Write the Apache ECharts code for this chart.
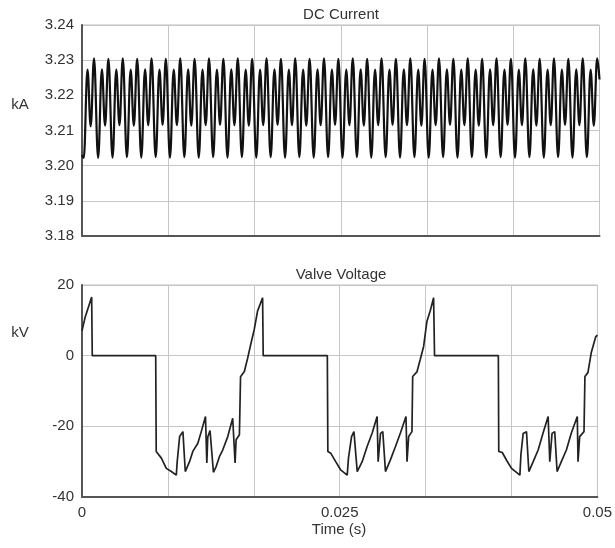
<!DOCTYPE html>
<html>
<head>
<meta charset="utf-8">
<script src="https://cdn.jsdelivr.net/npm/echarts@6/dist/echarts.min.js"></script>
<style>
html,body{margin:0;padding:0;background:#fff;}
#c{width:615px;height:548px;}
</style>
</head>
<body>
<div id="c"></div>
<script>
// ---- DC current (kA) : time of each turning point (s) and value ----
var dcTime = [
  0, 0.00017, 0.00053, 0.00084,
  0.00116, 0.00156, 0.00192, 0.00223,
  0.00255, 0.00295, 0.00331, 0.00362,
  0.00394, 0.00434, 0.00470, 0.00501,
  0.00533, 0.00573, 0.00609, 0.00640,
  0.00672, 0.00712, 0.00748, 0.00779,
  0.00810, 0.00850, 0.00886, 0.00917,
  0.00949, 0.00989, 0.01025, 0.01056,
  0.01088, 0.01128, 0.01164, 0.01195,
  0.01227, 0.01267, 0.01303, 0.01334,
  0.01366, 0.01406, 0.01442, 0.01473,
  0.01505, 0.01545, 0.01581, 0.01612,
  0.01644, 0.01684, 0.01720, 0.01751,
  0.01783, 0.01823, 0.01859, 0.01890,
  0.01922, 0.01962, 0.01998, 0.02029,
  0.02060, 0.02100, 0.02136, 0.02167,
  0.02199, 0.02239, 0.02275, 0.02306,
  0.02338, 0.02378, 0.02414, 0.02445,
  0.02477, 0.02517, 0.02553, 0.02584,
  0.02616, 0.02656, 0.02692, 0.02723,
  0.02755, 0.02795, 0.02831, 0.02862,
  0.02894, 0.02934, 0.02970, 0.03001,
  0.03033, 0.03073, 0.03109, 0.03140,
  0.03172, 0.03212, 0.03248, 0.03279,
  0.03310, 0.03350, 0.03386, 0.03417,
  0.03449, 0.03489, 0.03525, 0.03556,
  0.03588, 0.03628, 0.03664, 0.03695,
  0.03727, 0.03767, 0.03803, 0.03834,
  0.03866, 0.03906, 0.03942, 0.03973,
  0.04005, 0.04045, 0.04081, 0.04112,
  0.04144, 0.04184, 0.04220, 0.04251,
  0.04283, 0.04323, 0.04359, 0.04390,
  0.04422, 0.04462, 0.04498, 0.04529,
  0.04560, 0.04600, 0.04636, 0.04667,
  0.04699, 0.04739, 0.04775, 0.04806,
  0.04838, 0.04878, 0.04914, 0.04945,
  0.04977, 0.05
];
var dcCurrent = [
  3.2030, 3.2022, 3.2273, 3.2112,
  3.2305, 3.2022, 3.2274, 3.2114,
  3.2304, 3.2023, 3.2273, 3.2115,
  3.2305, 3.2024, 3.2273, 3.2114,
  3.2304, 3.2023, 3.2274, 3.2115,
  3.2305, 3.2024, 3.2273, 3.2116,
  3.2304, 3.2023, 3.2273, 3.2115,
  3.2305, 3.2024, 3.2274, 3.2114,
  3.2304, 3.2023, 3.2273, 3.2115,
  3.2305, 3.2024, 3.2273, 3.2116,
  3.2304, 3.2023, 3.2274, 3.2115,
  3.2305, 3.2024, 3.2273, 3.2114,
  3.2304, 3.2023, 3.2273, 3.2115,
  3.2305, 3.2024, 3.2274, 3.2116,
  3.2304, 3.2023, 3.2273, 3.2115,
  3.2305, 3.2024, 3.2273, 3.2114,
  3.2304, 3.2023, 3.2274, 3.2115,
  3.2305, 3.2024, 3.2273, 3.2116,
  3.2304, 3.2023, 3.2273, 3.2115,
  3.2305, 3.2024, 3.2274, 3.2114,
  3.2304, 3.2023, 3.2273, 3.2115,
  3.2305, 3.2024, 3.2273, 3.2116,
  3.2304, 3.2023, 3.2274, 3.2115,
  3.2305, 3.2024, 3.2273, 3.2114,
  3.2304, 3.2023, 3.2273, 3.2115,
  3.2305, 3.2024, 3.2274, 3.2116,
  3.2304, 3.2023, 3.2273, 3.2115,
  3.2305, 3.2024, 3.2273, 3.2114,
  3.2304, 3.2023, 3.2274, 3.2115,
  3.2305, 3.2024, 3.2273, 3.2116,
  3.2304, 3.2023, 3.2273, 3.2115,
  3.2305, 3.2024, 3.2274, 3.2114,
  3.2304, 3.2023, 3.2273, 3.2115,
  3.2305, 3.2024, 3.2273, 3.2116,
  3.2304, 3.2023, 3.2274, 3.2115,
  3.2305, 3.2024, 3.2273, 3.2114,
  3.2305, 3.2245
];

// ---- Valve voltage (kV) ----
var vvTime = [
  0, 0.00029, 0.000937, 0.000995, 0.00715,
  0.00720, 0.00737, 0.00770, 0.00818, 0.00867, 0.00915, 0.00923, 0.00947, 0.00979,
  0.01002, 0.01043, 0.01075, 0.01124, 0.01157, 0.01198, 0.01211, 0.01220, 0.01242,
  0.01275, 0.01301, 0.01333, 0.01365, 0.01414, 0.01462, 0.01485, 0.01495, 0.01527,
  0.01538, 0.01575, 0.01607, 0.01640, 0.01671, 0.01703, 0.01752, 0.01758,
  0.02380, 0.02385, 0.02413, 0.02461, 0.02509, 0.02573, 0.02585, 0.02615, 0.02638,
  0.02670, 0.02718, 0.02766, 0.02815, 0.02863, 0.02873, 0.02896, 0.02918,
  0.02944, 0.02992, 0.03041, 0.03089, 0.03143, 0.03153, 0.03169, 0.03201,
  0.03208, 0.03249, 0.03282, 0.03314, 0.03346, 0.03379, 0.03411, 0.03420,
  0.04039, 0.04043, 0.04077, 0.04119, 0.04167, 0.04248, 0.04258, 0.04280, 0.04312,
  0.04335, 0.04377, 0.04425, 0.04473, 0.04522, 0.04538, 0.04560, 0.04586,
  0.04609, 0.04650, 0.04699, 0.04747, 0.04805, 0.04812, 0.04828, 0.04870,
  0.04879, 0.04908, 0.04940, 0.04983, 0.05
];
var vvValue = [
  7.0, 10.7, 16.6, 0, 0,
  -27.1, -27.6, -29.0, -31.9, -32.8, -33.8, -30.2, -22.9, -21.5,
  -32.8, -30.0, -27.1, -24.8, -21.5, -17.2, -30.4, -23.0, -21.2,
  -33.0, -31.4, -28.6, -26.7, -22.9, -17.7, -30.4, -23.8, -22.4,
  -6.0, -4.5, -0.7, 3.6, 7.4, 12.6, 16.4, 0,
  0, -27.1, -27.6, -30.0, -32.3, -33.8, -29.0, -22.9, -21.5,
  -32.8, -30.0, -25.7, -21.9, -17.2, -30.0, -22.0, -21.5,
  -32.8, -29.5, -25.7, -21.9, -17.2, -30.0, -22.9, -21.5,
  -5.9, -4.6, -1.0, 2.6, 9.7, 12.8, 16.4, 0,
  0, -27.1, -27.4, -29.6, -31.9, -33.8, -28.0, -22.0, -21.5,
  -32.8, -30.0, -26.7, -21.9, -17.2, -30.0, -22.0, -21.5,
  -32.8, -30.0, -26.7, -21.9, -17.2, -30.0, -22.9, -21.5,
  -5.9, -4.8, 0.8, 5.3, 5.8
];

// ---- axis ticks / labels ----
var timeTickLabels = ['0', '0.025', '0.05'];
var timeLabelStep = 0.025;
var timeGridStep = 0.05 / 6;
var currentTicks = { min: 3.18, max: 3.24, step: 0.01 };
var voltageTicks = { min: -40, max: 20, step: 20 };

var FONT = '"Liberation Sans", Arial, sans-serif';
var TXT = '#333';
var GRIDC = '#c6c6c6';
var AXISC = '#555';

function pairs(xs, ys) { return xs.map(function (x, i) { return [x, ys[i]]; }); }

function xAxisCfg(gi, showLabels) {
  return {
    type: 'value', gridIndex: gi, min: 0, max: 0.05, interval: timeGridStep,
    axisLine: { show: true, onZero: false, lineStyle: { color: AXISC, width: 2 } },
    axisTick: { show: false },
    splitLine: { show: true, lineStyle: { color: GRIDC, width: 1 } },
    axisLabel: {
      show: showLabels, margin: 8, fontSize: 15, color: TXT, fontFamily: FONT,
      showMinLabel: true, showMaxLabel: true,
      formatter: function (v) {
        var r = v / timeLabelStep;
        var k = Math.round(r);
        if (Math.abs(r - k) < 1e-6 && k >= 0 && k < timeTickLabels.length) return timeTickLabels[k];
        return '';
      }
    }
  };
}
function yAxisCfg(gi, t, fmt) {
  return {
    type: 'value', gridIndex: gi, min: t.min, max: t.max, interval: t.step,
    axisLine: { show: true, lineStyle: { color: AXISC, width: 2 } },
    axisTick: { show: false },
    splitLine: { show: true, lineStyle: { color: GRIDC, width: 1 } },
    axisLabel: { margin: 8, fontSize: 15, color: TXT, fontFamily: FONT, formatter: fmt }
  };
}

var chart = echarts.init(document.getElementById('c'), null, { renderer: 'canvas' });
chart.setOption({
  animation: false,
  backgroundColor: '#fff',
  grid: [
    { left: 82, right: 15.5, top: 25, height: 211, show: true, borderColor: '#bdbdbd', borderWidth: 1, containLabel: false },
    { left: 82, right: 15.5, top: 285, height: 212, show: true, borderColor: '#bdbdbd', borderWidth: 1, containLabel: false }
  ],
  xAxis: [xAxisCfg(0, false), xAxisCfg(1, true)],
  yAxis: [
    yAxisCfg(0, currentTicks, function (v) { return v.toFixed(2); }),
    yAxisCfg(1, voltageTicks, function (v) { return String(Math.round(v)); })
  ],
  graphic: [
    { type: 'text', x: 341, y: 15, style: { text: 'DC Current', font: '15px ' + FONT, fill: TXT, align: 'center', verticalAlign: 'middle' } },
    { type: 'text', x: 341, y: 275, style: { text: 'Valve Voltage', font: '15px ' + FONT, fill: TXT, align: 'center', verticalAlign: 'middle' } },
    { type: 'text', x: 20, y: 105, style: { text: 'kA', font: '15px ' + FONT, fill: TXT, align: 'center', verticalAlign: 'middle' } },
    { type: 'text', x: 20, y: 333, style: { text: 'kV', font: '15px ' + FONT, fill: TXT, align: 'center', verticalAlign: 'middle' } },
    { type: 'text', x: 339, y: 530, style: { text: 'Time (s)', font: '15px ' + FONT, fill: TXT, align: 'center', verticalAlign: 'middle' } }
  ],
  series: [
    {
      type: 'line', xAxisIndex: 0, yAxisIndex: 0, showSymbol: false,
      smooth: 0.4, smoothMonotone: 'x',
      lineStyle: { color: '#111', width: 2.2 },
      data: pairs(dcTime, dcCurrent), z: 5
    },
    {
      type: 'line', xAxisIndex: 1, yAxisIndex: 1, showSymbol: false,
      lineStyle: { color: '#222', width: 1.7 },
      data: pairs(vvTime, vvValue), z: 5
    }
  ]
});
</script>
</body>
</html>
